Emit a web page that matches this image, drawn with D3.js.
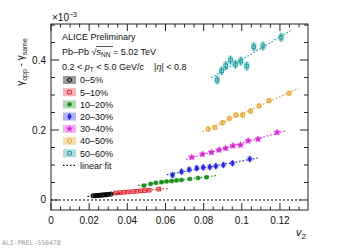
<!DOCTYPE html>
<html>
<head>
<meta charset="utf-8">
<script src="https://cdn.jsdelivr.net/npm/d3@7"></script>
<style>
  body { margin: 0; background: #fff; }
  text { font-family: "Liberation Sans", Arial, sans-serif; }
</style>
</head>
<body>
<svg id="chart" width="343" height="248"></svg>
<script>
// centrality classes, colours and markers (ALICE style)
var labels  = ["0\u20135%", "5\u201310%", "10\u201320%", "20\u201330%", "30\u201340%", "40\u201350%", "50\u201360%"];
var colors  = ["#000000", "#e8262e", "#1c8f1c", "#2222ee", "#e020e0", "#e8a22a", "#1a9ea0"];
var markers = ["ocircle", "osquare", "circle", "diamond", "star", "ocircle", "osquare"];

// v2 per class
var v2 = [
  [0.0221, 0.0232, 0.0242, 0.0251, 0.0260, 0.0270, 0.0279, 0.0290, 0.0300, 0.0315],
  [0.0340, 0.0361, 0.0382, 0.0405, 0.0428, 0.0449, 0.0470, 0.0492, 0.0515, 0.0565],
  [0.0487, 0.0522, 0.0550, 0.0580, 0.0606, 0.0632, 0.0658, 0.0684, 0.0728, 0.0771, 0.0815],
  [0.0637, 0.0684, 0.0724, 0.0764, 0.0798, 0.0832, 0.0864, 0.0903, 0.0951, 0.1042],
  [0.0738, 0.0794, 0.0841, 0.0881, 0.0916, 0.0954, 0.0993, 0.1033, 0.1085, 0.1185],
  [0.0824, 0.0859, 0.0899, 0.0934, 0.0969, 0.1004, 0.1046, 0.1091, 0.1143, 0.1248],
  [0.0871, 0.0894, 0.0916, 0.0941, 0.0967, 0.0995, 0.1026, 0.1063, 0.1111, 0.1206]
];
// gamma_opp - gamma_same (x 10^-3)
var dgamma = [
  [0.012, 0.012, 0.013, 0.013, 0.014, 0.014, 0.015, 0.015, 0.016, 0.017],
  [0.020, 0.021, 0.022, 0.023, 0.024, 0.025, 0.026, 0.027, 0.028, 0.031],
  [0.041, 0.046, 0.049, 0.051, 0.053, 0.054, 0.056, 0.057, 0.060, 0.063, 0.065],
  [0.071, 0.081, 0.087, 0.091, 0.093, 0.094, 0.097, 0.100, 0.105, 0.117],
  [0.122, 0.131, 0.136, 0.143, 0.148, 0.155, 0.157, 0.169, 0.174, 0.193],
  [0.203, 0.207, 0.221, 0.233, 0.243, 0.243, 0.254, 0.269, 0.284, 0.305],
  [0.343, 0.369, 0.384, 0.400, 0.388, 0.397, 0.383, 0.438, 0.440, 0.465]
];
// typical stat and syst uncertainty per class
var statErr = [0.002, 0.002, 0.003, 0.004, 0.005, 0.007, 0.013];
var sysErr  = [0.006, 0.006, 0.006, 0.007, 0.007, 0.008, 0.012];

var xTicks = [0, 0.02, 0.04, 0.06, 0.08, 0.1, 0.12];
var yTicks = [0, 0.2, 0.4];

var svg = d3.select("#chart");
var pLeft = 51, pRight = 308, pTop = 24, pBottom = 210;

var x = d3.scaleLinear().domain([0, 0.1347]).range([pLeft, pRight]);
var y = d3.scaleLinear().domain([-0.0286, 0.503]).range([pBottom, pTop]);

function symbolPath(m, size) {
  var t = {ocircle: d3.symbolCircle, circle: d3.symbolCircle, osquare: d3.symbolSquare,
           diamond: d3.symbolDiamond, star: d3.symbolStar}[m];
  return d3.symbol().type(t).size(size)();
}
function drawMarker(g, m, c, cx, cy) {
  var open = m.charAt(0) == "o";
  g.append("path")
    .attr("d", symbolPath(m, m == "star" ? 13 : 13))
    .attr("transform", "translate(" + cx + "," + cy + ")")
    .attr("fill", open ? "none" : c)
    .attr("stroke", c)
    .attr("stroke-width", open ? 1 : 0.4);
}

// zero line
svg.append("line")
  .attr("x1", x(0)).attr("x2", x(0.131))
  .attr("y1", y(0)).attr("y2", y(0))
  .attr("stroke", "#000").attr("stroke-width", 1)
  .attr("stroke-dasharray", "2,2");

// linear fits (least squares on each class)
var plot = svg.append("g");
v2.forEach(function(xs, i) {
  var ys = dgamma[i];
  var mx = d3.mean(xs), my = d3.mean(ys);
  var b = d3.sum(xs, function(v, k) { return (v - mx) * (ys[k] - my); }) /
          d3.sum(xs, function(v) { return (v - mx) * (v - mx); });
  var a = my - b * mx;
  var x0 = d3.min(xs) - 0.003, x1 = d3.max(xs) + 0.005;
  plot.append("line")
    .attr("x1", x(x0)).attr("y1", y(a + b * x0))
    .attr("x2", x(x1)).attr("y2", y(a + b * x1))
    .attr("stroke", colors[i]).attr("stroke-width", 1.2)
    .attr("stroke-dasharray", "1.5,2");
});

// points: syst boxes, stat bars, markers
v2.forEach(function(xs, i) {
  var g = plot.append("g");
  xs.forEach(function(v, k) {
    var cx = x(v), cy = y(dgamma[i][k]);
    var h = Math.abs(y(0) - y(sysErr[i])) * 2;
    g.append("rect")
      .attr("x", cx - 2.6).attr("width", 5.2)
      .attr("y", cy - h / 2).attr("height", h)
      .attr("fill", colors[i]).attr("fill-opacity", i == 0 ? 0.35 : 0.3);
    g.append("line")
      .attr("x1", cx).attr("x2", cx)
      .attr("y1", y(dgamma[i][k] - statErr[i])).attr("y2", y(dgamma[i][k] + statErr[i]))
      .attr("stroke", colors[i]).attr("stroke-width", 1);
    drawMarker(g, markers[i], colors[i], cx, cy);
  });
});

// frame and ticks (ROOT style, inward on all four sides)
svg.append("rect")
  .attr("x", pLeft).attr("y", pTop)
  .attr("width", pRight - pLeft).attr("height", pBottom - pTop)
  .attr("fill", "none").attr("stroke", "#222").attr("stroke-width", 1);

var ticks = svg.append("g").attr("stroke", "#222").attr("stroke-width", 1);
d3.range(0, 0.1347, 0.005).forEach(function(v, k) {
  var len = (k % 4 == 0) ? 7 : 3.5;
  ticks.append("line").attr("x1", x(v)).attr("x2", x(v)).attr("y1", pBottom).attr("y2", pBottom - len);
  ticks.append("line").attr("x1", x(v)).attr("x2", x(v)).attr("y1", pTop).attr("y2", pTop + len);
});
d3.range(0, 0.503, 0.05).forEach(function(v, k) {
  var len = (k % 4 == 0) ? 8 : 4;
  ticks.append("line").attr("y1", y(v)).attr("y2", y(v)).attr("x1", pLeft).attr("x2", pLeft + len);
  ticks.append("line").attr("y1", y(v)).attr("y2", y(v)).attr("x1", pRight).attr("x2", pRight - len);
});

// tick labels
svg.append("g").selectAll("text").data(xTicks).join("text")
  .attr("x", function(d) { return x(d); }).attr("y", 224)
  .attr("text-anchor", "middle").attr("font-size", 10).attr("fill", "#111")
  .text(function(d) { return d == 0 ? "0" : d3.format(".2~f")(d); });
svg.append("g").selectAll("text").data(yTicks).join("text")
  .attr("x", 46).attr("y", function(d) { return y(d) + 3.5; })
  .attr("text-anchor", "end").attr("font-size", 10).attr("fill", "#111")
  .text(function(d) { return d == 0 ? "0" : d3.format(".1f")(d); });

// exponent
var ex = svg.append("text").attr("x", 52).attr("y", 21).attr("font-size", 10).attr("fill", "#111");
ex.append("tspan").text("\u00d710");
ex.append("tspan").attr("dy", -4).attr("font-size", 7).text("\u22123");

// axis titles
var yl = svg.append("text")
  .attr("transform", "translate(24,62) rotate(-90)")
  .attr("text-anchor", "middle").attr("font-size", 10).attr("fill", "#111");
yl.append("tspan").text("\u03b3");
yl.append("tspan").attr("dy", 3).attr("font-size", 7).text("opp");
yl.append("tspan").attr("dy", -3).text(" - \u03b3");
yl.append("tspan").attr("dy", 3).attr("font-size", 7).text("same");

var xl = svg.append("text").attr("x", 296).attr("y", 236).attr("font-size", 11).attr("fill", "#111");
xl.append("tspan").attr("font-style", "italic").text("v");
xl.append("tspan").attr("dy", 3).attr("font-size", 8).text("2");

// header
var hdr = svg.append("g").attr("font-size", 9).attr("fill", "#111");
hdr.append("text").attr("x", 62).attr("y", 40).text("ALICE Preliminary");
var l2 = hdr.append("text").attr("x", 62).attr("y", 55);
l2.append("tspan").text("Pb\u2013Pb ");
l2.append("tspan").text("\u221a");
l2.append("tspan").attr("font-style", "italic").text("s");
l2.append("tspan").attr("dy", 2).attr("font-size", 6.5).text("NN");
l2.append("tspan").attr("dy", -2).text(" = 5.02 TeV");
hdr.append("line").attr("x1", 96).attr("x2", 113).attr("y1", 46.5).attr("y2", 46.5)
  .attr("stroke", "#111").attr("stroke-width", 0.7);
var l3 = hdr.append("text").attr("x", 62).attr("y", 70);
l3.append("tspan").text("0.2 < ");
l3.append("tspan").attr("font-style", "italic").text("p");
l3.append("tspan").attr("dy", 2).attr("font-size", 6.5).text("T");
l3.append("tspan").attr("dy", -2).text(" < 5.0 GeV/");
l3.append("tspan").attr("font-style", "italic").text("c");
l3.append("tspan").attr("xml:space", "preserve").text("    |");
l3.append("tspan").attr("font-style", "italic").text("\u03b7");
l3.append("tspan").text("| < 0.8");

// legend
var leg = svg.append("g");
labels.forEach(function(lab, i) {
  var cy = 80 + i * 12.2;
  leg.append("rect").attr("x", 63).attr("y", cy - 4).attr("width", 13).attr("height", 8)
    .attr("fill", colors[i]).attr("fill-opacity", i == 0 ? 0.4 : 0.35);
  drawMarker(leg, markers[i], colors[i], 69.5, cy);
  leg.append("text").attr("x", 80).attr("y", cy + 3.3).attr("font-size", 9).attr("fill", "#111").text(lab);
});
var fy = 80 + 7 * 12.2;
leg.append("line").attr("x1", 63).attr("x2", 77).attr("y1", fy).attr("y2", fy)
  .attr("stroke", "#000").attr("stroke-width", 1.2).attr("stroke-dasharray", "1.5,2");
leg.append("text").attr("x", 80).attr("y", fy + 3.3).attr("font-size", 9).attr("fill", "#111").text("linear fit");

// preliminary id
svg.append("text").attr("x", 2).attr("y", 245)
  .style("font-family", "'DejaVu Sans Mono', monospace").attr("font-size", 6.5)
  .attr("fill", "#999")
  .text("ALI-PREL-550478");
</script>
</body>
</html>
